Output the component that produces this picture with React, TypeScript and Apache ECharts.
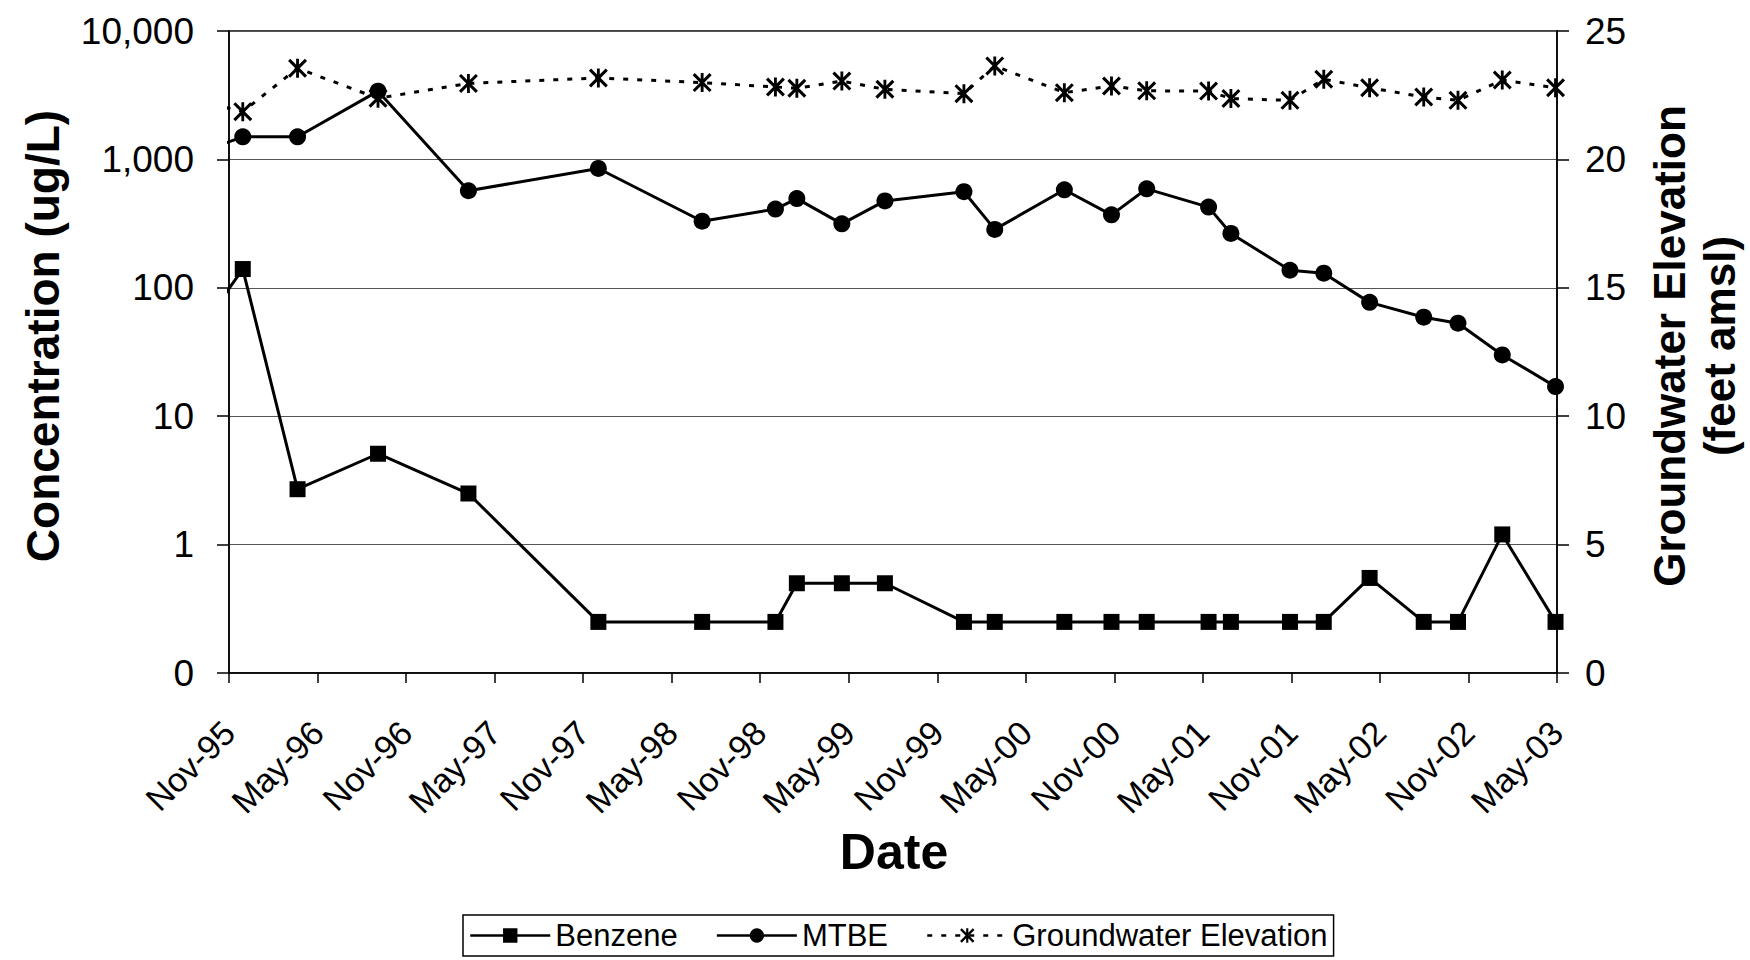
import React, { useEffect, useRef } from "react";
import * as echarts from "echarts";

// Sampling dates (first entry is a pre-period sample, clipped at the plot edge)
const sampleDates = [
  "1995-08-01",
  "1995-11-29",
  "1996-03-21",
  "1996-09-04",
  "1997-03-08",
  "1997-12-02",
  "1998-07-03",
  "1998-12-02",
  "1999-01-16",
  "1999-04-17",
  "1999-07-15",
  "1999-12-26",
  "2000-02-27",
  "2000-07-20",
  "2000-10-26",
  "2001-01-07",
  "2001-05-13",
  "2001-06-28",
  "2001-10-29",
  "2002-01-07",
  "2002-04-10",
  "2002-07-31",
  "2002-10-10",
  "2003-01-10",
  "2003-04-28",
];

// Concentrations (ug/L)
const benzene = [
  32, 140, 2.7, 5.1, 2.5, 0.25, 0.25, 0.25, 0.5, 0.5, 0.5, 0.25, 0.25, 0.25,
  0.25, 0.25, 0.25, 0.25, 0.25, 0.25, 0.55, 0.25, 0.25, 1.2, 0.25,
];
const mtbe = [
  1030, 1500, 1500, 3400, 570, 850, 330, 410, 495, 315, 475, 560, 285, 580, 370,
  590, 425, 265, 137, 130, 77, 59, 53, 30, 17,
];
// Groundwater elevation (feet amsl)
const groundwater = [
  22.4, 21.86, 23.55, 22.38, 22.96, 23.17, 22.99, 22.82, 22.77, 23.05, 22.73,
  22.56, 23.64, 22.6, 22.86, 22.67, 22.66, 22.37, 22.3, 23.12, 22.79, 22.43,
  22.3, 23.09, 22.79,
];

const xTickLabels = [
  "Nov-95", "May-96", "Nov-96", "May-97", "Nov-97", "May-98", "Nov-98", "May-99",
  "Nov-99", "May-00", "Nov-00", "May-01", "Nov-01", "May-02", "Nov-02", "May-03",
];

const FONT = "'Liberation Sans', Arial, Helvetica, sans-serif";

// months elapsed since 1 Nov 1995
function monthOffset(d: string): number {
  const [y, m, day] = d.split("-").map(Number);
  const dim = new Date(y, m, 0).getDate();
  return (y - 1995) * 12 + (m - 11) + (day - 1) / dim;
}

const asterisk =
  "path://M0,2.3L2.3,0L20,17.7L17.7,20Z M17.7,0L20,2.3L2.3,20L0,17.7Z M8.5,0L11.5,0L11.5,20L8.5,20Z";

export default function App() {
  const ref = useRef<HTMLDivElement>(null);

  useEffect(() => {
    if (!ref.current) return;
    const chart = echarts.init(ref.current, null, { renderer: "svg" });
    const xs = sampleDates.map(monthOffset);

    const option: any = {
      animation: false,
      backgroundColor: "#fff",
      grid: { left: 229, right: 193, top: 31, bottom: 287, show: true, borderColor: "#000", borderWidth: 1.5 },
      legend: {
        left: 463,
        top: 915,
        padding: [5, 6],
        itemWidth: 80,
        itemHeight: 18,
        itemGap: 38,
        borderColor: "#000",
        borderWidth: 1.5,
        backgroundColor: "#fff",
        textStyle: { fontFamily: FONT, fontSize: 31, color: "#000" },
        lineStyle: { width: 2.5 },
        data: ["Benzene", "MTBE", "Groundwater Elevation"],
      },
      xAxis: {
        type: "value",
        min: 0,
        max: 90,
        interval: 6,
        axisLine: { show: true, lineStyle: { color: "#000", width: 1.5 } },
        axisTick: { show: true, length: 10, lineStyle: { color: "#000", width: 1.5 } },
        axisLabel: {
          rotate: 45,
          margin: 54,
          fontSize: 34,
          fontFamily: FONT,
          color: "#000",
          showMinLabel: true,
          showMaxLabel: true,
          formatter: (v: number) => xTickLabels[Math.round(v / 6)] ?? "",
        },
        splitLine: { show: false },
      },
      yAxis: [
        {
          type: "log",
          logBase: 10,
          min: 0.1,
          max: 10000,
          position: "left",
          axisLine: { show: true, lineStyle: { color: "#000", width: 1.5 } },
          axisTick: { show: true, length: 12, lineStyle: { color: "#000", width: 1.5 } },
          axisLabel: {
            margin: 35,
            fontSize: 37,
            fontFamily: FONT,
            color: "#000",
            formatter: (v: number) => (v < 1 ? "0" : Math.round(v).toLocaleString("en-US")),
          },
          splitLine: { show: true, lineStyle: { color: "#555", width: 1 } },
        },
        {
          type: "value",
          min: 0,
          max: 25,
          interval: 5,
          position: "right",
          axisLine: { show: true, lineStyle: { color: "#000", width: 1.5 } },
          axisTick: { show: true, length: 12, lineStyle: { color: "#000", width: 1.5 } },
          axisLabel: { margin: 28, fontSize: 37, fontFamily: FONT, color: "#000" },
          splitLine: { show: false },
        },
      ],
      series: [
        {
          name: "Benzene",
          type: "line",
          yAxisIndex: 0,
          data: xs.map((x, i) => [x, benzene[i]]),
          symbol: "rect",
          symbolSize: 16,
          clip: true,
          itemStyle: { color: "#000" },
          lineStyle: { color: "#000", width: 3 },
          z: 3,
        },
        {
          name: "MTBE",
          type: "line",
          yAxisIndex: 0,
          data: xs.map((x, i) => [x, mtbe[i]]),
          symbol: "circle",
          symbolSize: 17,
          clip: true,
          itemStyle: { color: "#000" },
          lineStyle: { color: "#000", width: 3 },
          z: 3,
        },
        {
          name: "Groundwater Elevation",
          type: "line",
          yAxisIndex: 1,
          data: xs.map((x, i) => [x, groundwater[i]]),
          symbol: asterisk,
          symbolSize: 19,
          clip: true,
          itemStyle: { color: "#000" },
          lineStyle: { color: "#000", width: 3, type: [5, 9] },
          z: 2,
        },
      ],
      graphic: [
        {
          type: "text",
          x: 43,
          y: 336,
          rotation: Math.PI / 2,
          style: {
            text: "Concentration (ug/L)",
            fontSize: 46,
            fontWeight: "bold",
            fontFamily: FONT,
            fill: "#000",
            align: "center",
            verticalAlign: "middle",
          },
        },
        {
          type: "text",
          x: 1669,
          y: 346,
          rotation: Math.PI / 2,
          style: {
            text: "Groundwater Elevation",
            fontSize: 44,
            fontWeight: "bold",
            fontFamily: FONT,
            fill: "#000",
            align: "center",
            verticalAlign: "middle",
          },
        },
        {
          type: "text",
          x: 1719,
          y: 346,
          rotation: Math.PI / 2,
          style: {
            text: "(feet amsl)",
            fontSize: 44,
            fontWeight: "bold",
            fontFamily: FONT,
            fill: "#000",
            align: "center",
            verticalAlign: "middle",
          },
        },
        {
          type: "text",
          x: 894,
          y: 852,
          style: {
            text: "Date",
            fontSize: 50,
            fontWeight: "bold",
            fontFamily: FONT,
            fill: "#000",
            align: "center",
            verticalAlign: "middle",
          },
        },
      ],
    };

    chart.setOption(option);
    return () => chart.dispose();
  }, []);

  return (
    <div
      ref={ref}
      style={{ position: "fixed", left: 0, top: 0, width: 1750, height: 960, background: "#fff" }}
    />
  );
}
